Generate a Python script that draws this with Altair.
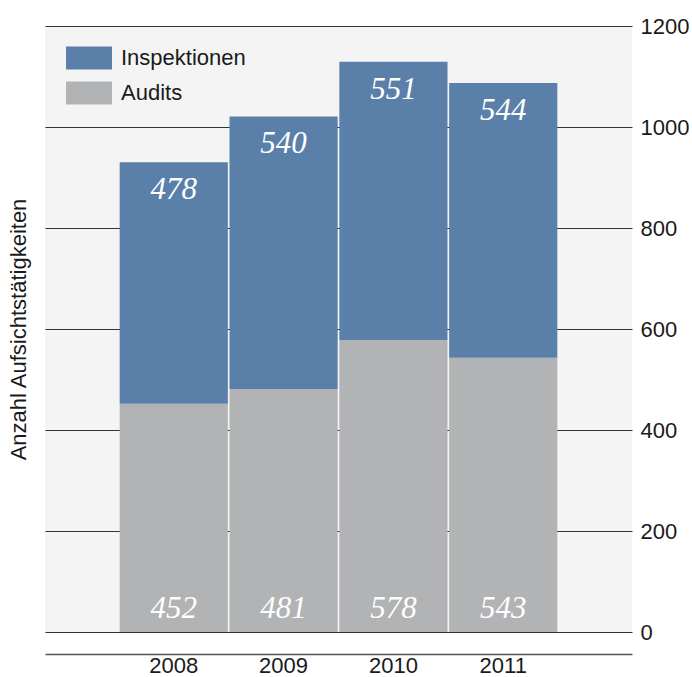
import altair as alt
import pandas as pd

jahre = ["2008", "2009", "2010", "2011"]
audits = [452, 481, 578, 543]
inspektionen = [478, 540, 551, 544]
kategorien = ["Inspektionen", "Audits"]
farben = ["#5a7fa9", "#b2b3b5"]
y_ticks = [0, 200, 400, 600, 800, 1000, 1200]

rows = []
for j, a, i in zip(jahre, audits, inspektionen):
    rows.append({"Jahr": j, "Kategorie": "Audits", "Wert": a, "ord": 0})
    rows.append({"Jahr": j, "Kategorie": "Inspektionen", "Wert": i, "ord": 1})
df = pd.DataFrame(rows)

SANS = "Liberation Sans"
SERIF = "Liberation Serif"
yscale = alt.Scale(domain=[0, 1200], nice=False)
xscale = alt.Scale(paddingInner=0.015, paddingOuter=0.68)

x_enc = alt.X(
    "Jahr:N", scale=xscale, title=None,
    axis=alt.Axis(offset=22, ticks=False, labelAngle=0, labelPadding=1,
                  domainColor="#555555", domainWidth=1.3, grid=False,
                  labelFont=SANS, labelFontSize=22, labelColor="#1a1a1a"),
)

base = alt.Chart(df)

bars = base.mark_bar(opacity=1).encode(
    x=x_enc,
    y=alt.Y("Wert:Q", stack="zero", scale=yscale, title=None,
            axis=alt.Axis(orient="right", values=y_ticks, format="d", ticks=False, domain=False,
                          grid=True, gridColor="#333333", gridWidth=1.2, gridOpacity=1,
                          labelPadding=8, labelFont=SANS, labelFontSize=22,
                          labelColor="#1a1a1a", labelBaseline="middle")),
    color=alt.Color("Kategorie:N",
                    scale=alt.Scale(domain=kategorien, range=farben),
                    legend=alt.Legend(orient="none", legendX=21, legendY=9, title=None,
                                      symbolType="M-1,-0.5H1V0.5H-1Z", symbolSize=2116,
                                      symbolStrokeWidth=0, symbolOpacity=1,
                                      labelFont=SANS, labelFontSize=22, labelColor="#1a1a1a",
                                      labelOffset=9, rowPadding=-10, padding=0)),
    order=alt.Order("ord:Q"),
)

txt_audits = base.transform_filter(alt.datum.Kategorie == "Audits").mark_text(
    font=SERIF, fontStyle="italic", fontSize=31, color="white",
    baseline="alphabetic", dy=-14,
).encode(
    x=x_enc,
    y=alt.Y(datum=0, scale=yscale, axis=None),
    text="Wert:Q",
)

txt_insp = base.transform_joinaggregate(
    total="sum(Wert)", groupby=["Jahr"]
).transform_filter(alt.datum.Kategorie == "Inspektionen").mark_text(
    font=SERIF, fontStyle="italic", fontSize=31, color="white",
    baseline="alphabetic", dy=37,
).encode(
    x=x_enc,
    y=alt.Y("total:Q", scale=yscale,
            title="Anzahl Aufsichtstätigkeiten",
            axis=alt.Axis(orient="left", labels=False, ticks=False, domain=False,
                          grid=False, titlePadding=15, titleFont=SANS,
                          titleFontSize=22, titleFontWeight="normal",
                          titleColor="#1a1a1a")),
    text="Wert:Q",
)

chart = alt.layer(bars, txt_audits, txt_insp).resolve_axis(y="independent").properties(
    width=587, height=606,
    autosize=alt.AutoSizeParams(type="none"),
    padding={"left": 45, "top": 26, "right": 60, "bottom": 45},
    background="white",
).configure_view(fill="#f4f4f4", strokeWidth=0)

chart.save("out.html", embed_options={"renderer": "svg", "actions": False})
